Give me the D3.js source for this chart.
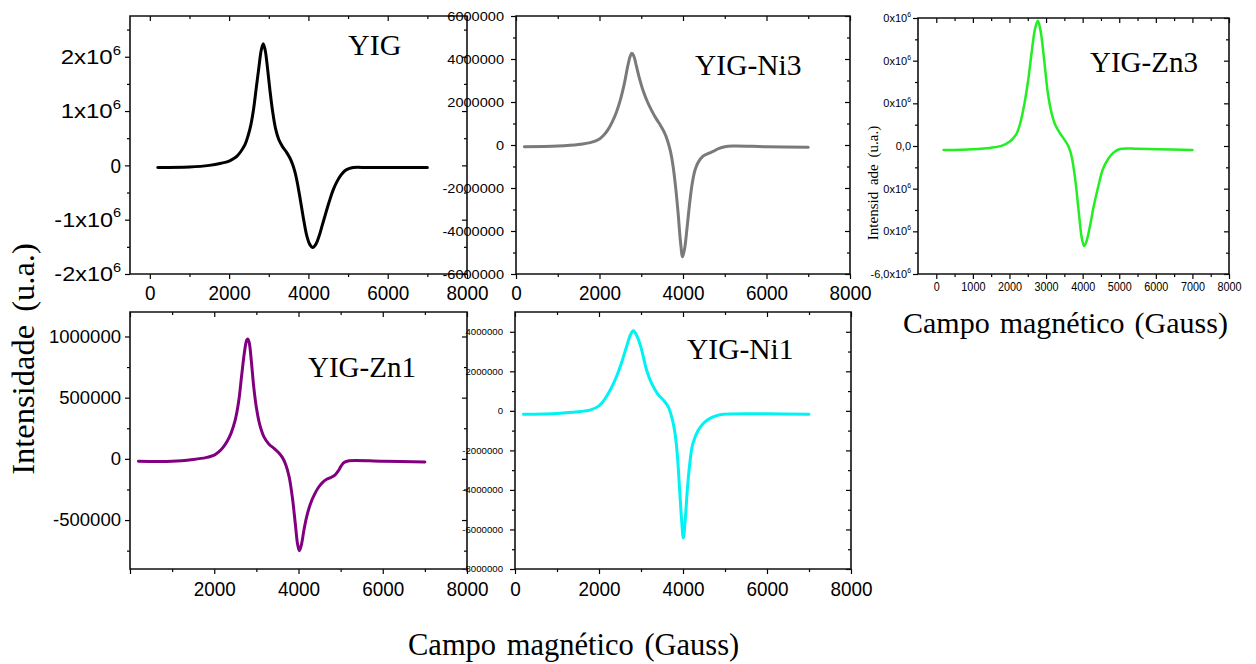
<!DOCTYPE html>
<html><head><meta charset="utf-8">
<script src="https://cdn.jsdelivr.net/npm/d3@7"></script>
<style>html,body{margin:0;padding:0;background:#fff;}svg{display:block}</style>
</head><body>
<svg id="chart" width="1256" height="664"></svg>
<script>
// ---------------- DATA ----------------
// YIG (black)
const yigField  = [200,1000,1500,1800,2000,2100,2200,2300,2400,2480,2550,2620,2680,2750,2810,2860,2910,2970,3030,3100,3170,3250,3350,3450,3530,3600,3660,3720,3800,3880,3960,4030,4110,4190,4270,4350,4430,4520,4620,4720,4820,4920,5020,5130,5500,6000,7000];
const yigValues = [-0.04e6,-0.03e6,0,0.04e6,0.08e6,0.12e6,0.17e6,0.26e6,0.38e6,0.55e6,0.75e6,1.05e6,1.4e6,1.8e6,2.12e6,2.24e6,2.12e6,1.78e6,1.38e6,0.98e6,0.68e6,0.48e6,0.34e6,0.24e6,0.14e6,0.02e6,-0.12e6,-0.32e6,-0.65e6,-1.0e6,-1.3e6,-1.45e6,-1.51e6,-1.45e6,-1.3e6,-1.1e6,-0.9e6,-0.68e6,-0.46e6,-0.3e6,-0.18e6,-0.1e6,-0.06e6,-0.04e6,-0.04e6,-0.04e6,-0.04e6];
// YIG-Ni3 (grey)
const ni3Field  = [200,1000,1500,1800,2000,2100,2200,2300,2400,2500,2600,2680,2740,2775,2820,2880,2950,3050,3150,3250,3350,3450,3550,3630,3700,3760,3820,3880,3940,3990,4040,4100,4160,4220,4290,4380,4480,4600,4720,4850,5000,5200,6000,7000];
const ni3Values = [-0.08e6,-0.05e6,0.02e6,0.12e6,0.28e6,0.45e6,0.7e6,1.05e6,1.5e6,2.1e6,2.9e6,3.7e6,4.15e6,4.27e6,4.15e6,3.7e6,3.15e6,2.5e6,2.0e6,1.6e6,1.25e6,0.95e6,0.6e6,0.2e6,-0.3e6,-0.95e6,-1.9e6,-3.1e6,-4.5e6,-5.2e6,-4.8e6,-3.8e6,-2.7e6,-1.8e6,-1.15e6,-0.75e6,-0.52e6,-0.4e6,-0.3e6,-0.17e6,-0.08e6,-0.05e6,-0.08e6,-0.1e6];
// YIG-Zn3 (green)
const zn3Field  = [200,1000,1500,1800,2000,2100,2200,2300,2400,2500,2600,2700,2775,2850,2950,3050,3150,3250,3400,3520,3620,3700,3800,3900,3980,4040,4100,4200,4300,4425,4550,4700,4850,5020,5500,6000,7000];
const zn3Values = [-0.19e6,-0.15e6,-0.08e6,0.02e6,0.2e6,0.36e6,0.6e6,1.1e6,1.9e6,2.94e6,4.3e6,5.5e6,5.87e6,5.4e6,4.0e6,2.47e6,1.55e6,1.0e6,0.55e6,0.25e6,-0.05e6,-0.5e6,-1.6e6,-3.2e6,-4.35e6,-4.69e6,-4.5e6,-3.75e6,-2.85e6,-1.91e6,-1.1e6,-0.6e6,-0.3e6,-0.14e6,-0.13e6,-0.15e6,-0.19e6];
// YIG-Zn1 (purple)
const zn1Field  = [200,1000,1500,1800,2000,2100,2200,2300,2400,2500,2580,2650,2720,2770,2795,2830,2880,2940,3000,3080,3180,3300,3420,3530,3620,3700,3780,3860,3930,3980,4022,4070,4130,4196,4280,4380,4480,4580,4680,4780,4870,4940,5010,5080,5200,6000,7000];
const zn1Values = [-0.02e6,-0.02e6,-0.005e6,0.01e6,0.03e6,0.055e6,0.09e6,0.14e6,0.21e6,0.32e6,0.47e6,0.68e6,0.88e6,0.97e6,0.98e6,0.95e6,0.8e6,0.58e6,0.42e6,0.28e6,0.18e6,0.12e6,0.085e6,0.05e6,0.01e6,-0.05e6,-0.15e6,-0.33e6,-0.55e6,-0.7e6,-0.75e6,-0.7e6,-0.58e6,-0.47e6,-0.37e6,-0.29e6,-0.23e6,-0.19e6,-0.165e6,-0.15e6,-0.13e6,-0.1e6,-0.06e6,-0.03e6,-0.015e6,-0.02e6,-0.025e6];
// YIG-Ni1 (cyan)
const ni1Field  = [200,1000,1500,1800,2000,2100,2200,2350,2500,2650,2750,2817,2900,3000,3135,3250,3400,3550,3650,3730,3800,3860,3920,3970,4008,4050,4103,4160,4230,4365,4500,4643,4800,4960,6000,7000];
const ni1Values = [-0.17e6,-0.13e6,-0.05e6,0.05e6,0.25e6,0.48e6,0.8e6,1.4e6,2.2e6,3.2e6,3.85e6,4.05e6,3.8e6,3.2e6,2.05e6,1.4e6,0.85e6,0.5e6,0.2e6,-0.3e6,-1.0e6,-2.1e6,-4.0e6,-5.6e6,-6.43e6,-5.6e6,-4.0e6,-2.7e6,-1.7e6,-0.97e6,-0.6e6,-0.38e6,-0.24e6,-0.17e6,-0.15e6,-0.17e6];

// tick values / labels
const xTicks2k      = [0,2000,4000,6000,8000];
const xTicks2kLabel = ["0","2000","4000","6000","8000"];
const xTicksZn1      = [0,2000,4000,6000,8000];
const xTicksZn1Label = ["","2000","4000","6000","8000"];
const xTicks1k      = [0,1000,2000,3000,4000,5000,6000,7000,8000];
const xTicks1kLabel = ["0","1000","2000","3000","4000","5000","6000","7000","8000"];
const yigYTicks  = [-2e6,-1e6,0,1e6,2e6];
const yigYLabels = ["-2x10^6","-1x10^6","0","1x10^6","2x10^6"];
const ni3YTicks  = [-6e6,-4e6,-2e6,0,2e6,4e6,6e6];
const ni3YLabels = ["-6000000","-4000000","-2000000","0","2000000","4000000","6000000"];
const zn3YTicks  = [-6e6,-4e6,-2e6,0,2e6,4e6,6e6];
const zn3YLabels = ["-6,0x10^6","0x10^6","0x10^6","0,0","0x10^6","0x10^6","0x10^6"];
const zn1YTicks  = [-5e5,0,5e5,1e6];
const zn1YLabels = ["-500000","0","500000","1000000"];
const ni1YTicks  = [-8e6,-6e6,-4e6,-2e6,0,2e6,4e6];
const ni1YLabels = ["-8000000","-6000000","-4000000","-2000000","0","2000000","4000000"];

const titles = ["YIG","YIG-Ni3","YIG-Zn3","YIG-Zn1","YIG-Ni1"];
const colors = ["#000000","#7a7a7a","#22ee22","#800080","#00f2f2"];

// ---------------- DRAWING ----------------
const SANS  = "'Liberation Sans', Arial, Helvetica, sans-serif";
const SERIF = "'Liberation Serif', 'Times New Roman', Times, serif";
const svg = d3.select("#chart");

function steps(a,b,s){const r=[];for(let v=a;v<=b+1e-6;v+=s)r.push(v);return r;}

function supLabels(sel, fs){
  sel.each(function(){
    const t = d3.select(this); const s = t.text();
    if (s.indexOf("^")<0) return;
    const [base,exp] = s.split("^");
    t.text(null);
    t.append("tspan").text(base);
    t.append("tspan").attr("dy", -fs*0.45).attr("font-size", fs*0.62).text(exp);
  });
}
function squeeze(sel, k){
  if (k===1) return;
  sel.each(function(){
    const L = this.getComputedTextLength();
    if (L>0) d3.select(this).attr("textLength", L*k).attr("lengthAdjust","spacingAndGlyphs");
  });
}

function panel(c){
  const [L,T,R,B] = c.box;
  const x = d3.scaleLinear().domain(c.xDomain).range([L,R]);
  const y = d3.scaleLinear().domain(c.yDomain).range([B,T]);
  const g = svg.append("g");

  const pts = c.field.map((f,i)=>[f,c.values[i]]);
  g.append("path").datum(pts)
    .attr("fill","none").attr("stroke",c.color).attr("stroke-width",c.lw)
    .attr("stroke-linejoin","round").attr("stroke-linecap","round")
    .attr("d", d3.line().x(d=>x(d[0])).y(d=>y(d[1])).curve(d3.curveCatmullRom.alpha(0.5)));

  const style = sel => { sel.select(".domain").remove(); sel.selectAll("line").attr("stroke","#000").attr("stroke-width",1.2); };
  g.append("g").attr("transform",`translate(0,${B})`).call(d3.axisBottom(x).tickValues(c.xMinor).tickSize(3).tickFormat("")).call(style);
  g.append("g").attr("transform",`translate(${L},0)`).call(d3.axisLeft(y).tickValues(c.yMinor).tickSize(3).tickFormat("")).call(style);
  g.append("g").attr("transform",`translate(0,${T})`).call(d3.axisTop(x).tickValues(c.xMinor).tickSize(-3).tickFormat("")).call(style);
  g.append("g").attr("transform",`translate(${R},0)`).call(d3.axisRight(y).tickValues(c.yMinor).tickSize(-3).tickFormat("")).call(style);
  g.append("g").attr("transform",`translate(0,${T})`).call(d3.axisTop(x).tickValues(c.xTicks).tickSize(-5).tickFormat("")).call(style);
  g.append("g").attr("transform",`translate(${R},0)`).call(d3.axisRight(y).tickValues(c.yTicks).tickSize(-5).tickFormat("")).call(style);
  const xa = g.append("g").attr("transform",`translate(0,${B})`)
    .call(d3.axisBottom(x).tickValues(c.xTicks).tickSize(5).tickPadding(c.xPad).tickFormat((d,i)=>c.xLabels[i])).call(style);
  xa.selectAll("text").attr("font-family",SANS).attr("font-size",c.xfs).attr("fill","#000").attr("dy",null)
    .attr("y", c.xBase - B);
  squeeze(xa.selectAll("text"), c.xk);
  const ya = g.append("g").attr("transform",`translate(${L},0)`)
    .call(d3.axisLeft(y).tickValues(c.yTicks).tickSize(5).tickPadding(c.yPad).tickFormat((d,i)=>c.yLabels[i])).call(style);
  const yt = ya.selectAll("text").attr("font-family",SANS).attr("font-size",c.yfs).attr("fill","#000");
  squeeze(yt, c.yk);
  supLabels(yt, c.yfs);

  // frame (Origin-style box)
  g.append("path")
    .attr("d", `M${L},${T}H${R}V${B}H${L}Z`)
    .attr("fill","none").attr("stroke","#111").attr("stroke-width",1.6);

  g.append("text").attr("x",c.tx).attr("y",c.ty).attr("font-family",SERIF).attr("font-size",c.tfs)
    .attr("fill","#000").text(c.title);
  return g;
}

const panels = [
  {box:[130,16,467,274], xDomain:[-500,8000], yDomain:[-2e6,2.75e6], field:yigField, values:yigValues,
   xTicks:xTicks2k, xLabels:xTicks2kLabel, xMinor:steps(1000,7000,2000), yTicks:yigYTicks, yLabels:yigYLabels, yMinor:steps(-1.5e6,2.5e6,1e6),
   xfs:21, xk:0.9, xPad:4, xBase:300, yfs:21, yk:0.9, yPad:4, color:colors[0], lw:3, title:titles[0], tx:348, ty:55, tfs:30},
  {box:[516,16,850,274], xDomain:[0,8000], yDomain:[-6e6,6e6], field:ni3Field, values:ni3Values,
   xTicks:xTicks2k, xLabels:xTicks2kLabel, xMinor:steps(1000,7000,2000), yTicks:ni3YTicks, yLabels:ni3YLabels, yMinor:steps(-5e6,5e6,2e6),
   xfs:21, xk:0.9, xPad:4, xBase:300, yfs:13, yk:1.12, yPad:7, color:colors[1], lw:3, title:titles[1], tx:695, ty:75, tfs:29.5},
  {box:[918,18,1229,274], xDomain:[-500,8000], yDomain:[-6e6,6e6], field:zn3Field, values:zn3Values,
   xTicks:xTicks1k, xLabels:xTicks1kLabel, xMinor:steps(500,7500,1000), yTicks:zn3YTicks, yLabels:zn3YLabels, yMinor:steps(-5e6,5e6,2e6),
   xfs:12, xk:0.9, xPad:4, xBase:291, yfs:11, yk:1, yPad:2, color:colors[2], lw:2.5, title:titles[2], tx:1090, ty:72, tfs:29},
  {box:[130,312,467,569], xDomain:[0,8000], yDomain:[-9e5,1.2e6], field:zn1Field, values:zn1Values,
   xTicks:xTicksZn1, xLabels:xTicksZn1Label, xMinor:steps(1000,7000,2000), yTicks:zn1YTicks, yLabels:zn1YLabels, yMinor:steps(-7.5e5,1.15e6,5e5),
   xfs:21, xk:0.9, xPad:4, xBase:596, yfs:18.5, yk:1, yPad:4, color:colors[3], lw:3, title:titles[3], tx:308, ty:377, tfs:29},
  {box:[515,312,851,569], xDomain:[0,8000], yDomain:[-8e6,5e6], field:ni1Field, values:ni1Values,
   xTicks:xTicks2k, xLabels:xTicks2kLabel, xMinor:steps(1000,7000,2000), yTicks:ni1YTicks, yLabels:ni1YLabels, yMinor:steps(-7e6,3e6,2e6),
   xfs:21, xk:0.9, xPad:4, xBase:596, yfs:9, yk:1.07, yPad:7, color:colors[4], lw:3, title:titles[4], tx:687, ty:359, tfs:29.5}
];
panels.forEach(panel);

// axis titles
svg.append("text").attr("transform","translate(34,359) rotate(-90)").attr("text-anchor","middle")
  .attr("font-family",SERIF).attr("font-size",32.5).attr("word-spacing",5)
  .text("Intensidade (u.a.)");
svg.append("text").attr("x",408).attr("y",655)
  .attr("font-family",SERIF).attr("font-size",30.5).attr("word-spacing",3)
  .text("Campo magnético (Gauss)");
svg.append("text").attr("x",903).attr("y",333)
  .attr("font-family",SERIF).attr("font-size",30).attr("word-spacing",2.5)
  .text("Campo magnético (Gauss)");
svg.append("text").attr("transform","translate(878,183) rotate(-90)").attr("text-anchor","middle")
  .attr("font-family",SERIF).attr("font-size",15).attr("word-spacing",3)
  .text("Intensid ade (u.a.)");
</script>
</body></html>
